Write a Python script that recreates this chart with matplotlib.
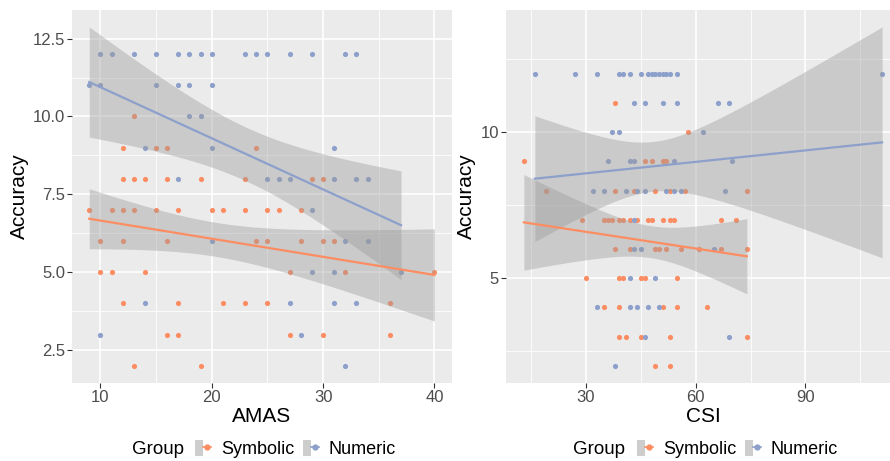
import numpy as np
import matplotlib
matplotlib.use("Agg")
import matplotlib.pyplot as plt
from matplotlib.patches import Patch
from matplotlib.lines import Line2D
from matplotlib.legend_handler import HandlerTuple
from matplotlib.ticker import MultipleLocator

plt.rcParams['font.family'] = ['Liberation Sans', 'DejaVu Sans']

groups = ["Symbolic", "Numeric"]
group_colors = ["#FC8D62", "#8DA0CB"]

# ---- Left panel: AMAS vs Accuracy ----
amas_sym_x = [13,
              12, 15, 16, 24,
              12, 13, 14, 16, 19, 23, 29, 30,
              9, 11, 12, 13, 15, 17, 20, 21, 23, 25, 26, 28,
              10, 12, 16, 24, 25, 28, 30, 31,
              10, 11, 14, 27, 32, 40,
              12, 17, 21, 23, 25, 36,
              16, 17, 27, 30, 36,
              13, 19]
amas_sym_y = [10,
              9, 9, 9, 9,
              8, 8, 8, 8, 8, 8, 8, 8,
              7, 7, 7, 7, 7, 7, 7, 7, 7, 7, 7, 7,
              6, 6, 6, 6, 6, 6, 6, 6,
              5, 5, 5, 5, 5, 5,
              4, 4, 4, 4, 4, 4,
              3, 3, 3, 3, 3,
              2, 2]
amas_num_x = [10, 11, 13, 15, 17, 18, 19, 20, 23, 24, 25, 27, 29, 32, 33,
              9, 10, 15, 17, 18, 20,
              18, 19,
              14, 20, 31,
              17, 25, 26, 27, 31, 33, 34,
              29,
              20, 32, 34,
              29, 31, 37,
              14, 27, 31, 33,
              10, 28,
              32]
amas_num_y = [12, 12, 12, 12, 12, 12, 12, 12, 12, 12, 12, 12, 12, 12, 12,
              11, 11, 11, 11, 11, 11,
              10, 10,
              9, 9, 9,
              8, 8, 8, 8, 8, 8, 8,
              7,
              6, 6, 6,
              5, 5, 5,
              4, 4, 4, 4,
              3, 3,
              2]

# ---- Right panel: CSI vs Accuracy ----
csi_sym_x = [38,
             58,
             13, 46, 48, 51, 52,
             19, 38, 43, 49, 53, 57, 74,
             29, 35, 36, 37, 39, 40, 42, 44, 47, 48, 51, 53, 54, 67, 71,
             38, 42, 49, 50, 52, 56, 61, 67, 74,
             30, 39, 40, 45, 46, 55,
             35, 39, 51, 55, 63,
             39, 41, 45, 53, 74,
             49, 53]
csi_sym_y = [11,
             10,
             9, 9, 9, 9, 9,
             8, 8, 8, 8, 8, 8, 8,
             7, 7, 7, 7, 7, 7, 7, 7, 7, 7, 7, 7, 7, 7, 7,
             6, 6, 6, 6, 6, 6, 6, 6, 6,
             5, 5, 5, 5, 5, 5,
             4, 4, 4, 4, 4,
             3, 3, 3, 3, 3,
             2, 2]
csi_num_x = [16, 27, 33, 39, 40, 42, 45, 47, 48, 49, 50, 51, 52, 53, 55, 111,
             43, 46, 51, 55, 66, 69,
             37, 39, 62,
             36, 42, 43, 54, 70,
             32, 35, 41, 44, 46, 52, 54, 56, 68,
             43,
             43, 45, 65,
             42, 49,
             33, 42, 44, 47, 50,
             46, 69,
             38]
csi_num_y = [12, 12, 12, 12, 12, 12, 12, 12, 12, 12, 12, 12, 12, 12, 12, 12,
             11, 11, 11, 11, 11, 11,
             10, 10, 10,
             9, 9, 9, 9, 9,
             8, 8, 8, 8, 8, 8, 8, 8, 8,
             7,
             6, 6, 6,
             5, 5,
             4, 4, 4, 4, 4,
             3, 3,
             2]

x_labels = ["AMAS", "CSI"]
y_label = "Accuracy"
legend_title = "Group"


def lm_band(x, y, n=80):
    x = np.asarray(x, float)
    y = np.asarray(y, float)
    b1, b0 = np.polyfit(x, y, 1)
    xs = np.linspace(x.min(), x.max(), n)
    fit = b0 + b1 * xs
    resid = y - (b0 + b1 * x)
    df = len(x) - 2
    s = np.sqrt(np.sum(resid ** 2) / df)
    sxx = np.sum((x - x.mean()) ** 2)
    se = s * np.sqrt(1.0 / len(x) + (xs - x.mean()) ** 2 / sxx)
    z = 1.959964
    t = z + (z ** 3 + z) / (4 * df) + (5 * z ** 5 + 16 * z ** 3 + 3 * z) / (96 * df ** 2)
    return xs, fit, fit - t * se, fit + t * se


W, H = 890, 461
fig = plt.figure(figsize=(W / 100, H / 100), dpi=100)

ax1 = fig.add_axes([72 / W, (H - 382.7) / H, (451.7 - 72) / W, (382.7 - 10) / H])
ax2 = fig.add_axes([506 / W, (H - 382.7) / H, 394 / W, (382.7 - 10) / H])

panels = [
    (ax1, [(amas_sym_x, amas_sym_y), (amas_num_x, amas_num_y)]),
    (ax2, [(csi_sym_x, csi_sym_y), (csi_num_x, csi_num_y)]),
]

for ax, series in panels:
    ax.set_facecolor("#EBEBEB")
    for sp in ax.spines.values():
        sp.set_visible(False)
    for (x, y), col in zip(series, group_colors):
        ax.scatter(x, y, s=14, color=col, linewidths=0, zorder=2)
    for (x, y), col in zip(series, group_colors):
        xs, fit, lo, hi = lm_band(x, y)
        ax.fill_between(xs, lo, hi, color="#999999", alpha=0.4, linewidth=0, zorder=3)
    for (x, y), col in zip(series, group_colors):
        xs, fit, lo, hi = lm_band(x, y)
        ax.plot(xs, fit, color=col, linewidth=1.6, zorder=4)
    ax.margins(0.05)
    ax.set_axisbelow(True)
    ax.grid(which="major", color="white", linewidth=1.2)
    ax.grid(which="minor", color="white", linewidth=0.6)
    ax.tick_params(which="major", length=3.5, width=0.8, color="#333333",
                   labelcolor="#4D4D4D", labelsize=12, pad=1.5)
    ax.tick_params(which="minor", length=0)
    ax.set_ylabel(y_label, fontsize=15, labelpad=3)

ax1.xaxis.set_major_locator(MultipleLocator(10))
ax1.xaxis.set_minor_locator(MultipleLocator(5))
ax1.yaxis.set_major_locator(MultipleLocator(2.5))
ax1.yaxis.set_minor_locator(MultipleLocator(1.25))
ax2.xaxis.set_major_locator(MultipleLocator(30))
ax2.xaxis.set_minor_locator(MultipleLocator(15))
ax2.yaxis.set_major_locator(MultipleLocator(5))
ax2.yaxis.set_minor_locator(MultipleLocator(2.5))

ax1.set_xlabel(x_labels[0], fontsize=15, labelpad=2)
ax2.set_xlabel(x_labels[1], fontsize=15, labelpad=2)

# legends
for title_px, key_px in [(131.7, 195), (573.3, 637)]:
    handles = []
    for col in group_colors:
        handles.append((Patch(facecolor="#CDCDCD", edgecolor="none"),
                        Line2D([], [], color=col, linewidth=1.2, marker="o", markersize=3.5)))
    yc = 1 - 449 / H
    fig.text(title_px / W, yc, legend_title, fontsize=13.5, ha="left", va="center")
    fig.legend(handles, groups, loc="center left", bbox_to_anchor=(key_px / W, yc),
               bbox_transform=fig.transFigure, ncol=2, frameon=False, fontsize=13,
               handlelength=0.9, handleheight=1.05, handletextpad=0.55,
               columnspacing=0.45, borderpad=0, borderaxespad=0,
               handler_map={tuple: HandlerTuple(ndivide=None, pad=0)})

fig.savefig("out.png", dpi=100)
